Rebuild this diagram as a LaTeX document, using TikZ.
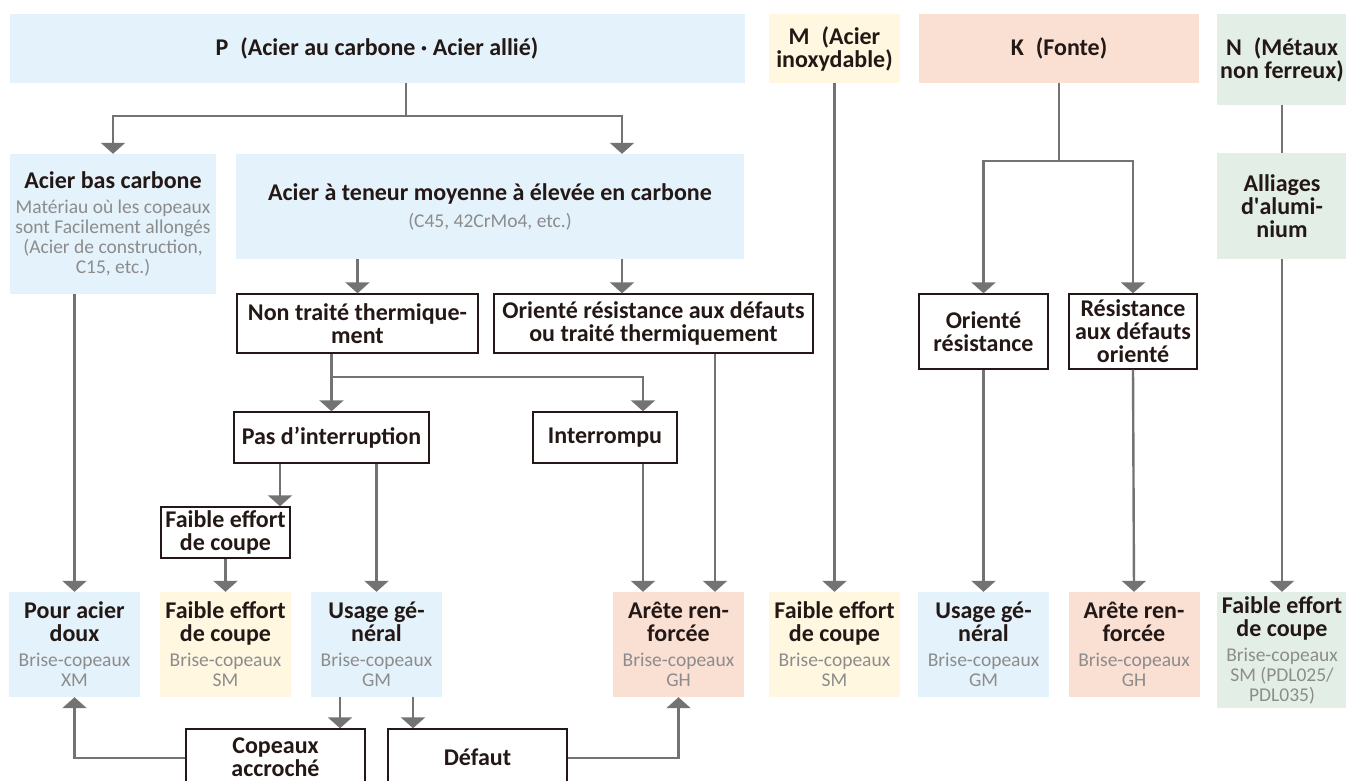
\documentclass[tikz,border=0pt]{standalone}
\usepackage{fontspec}
\setmainfont{Carlito}
\usetikzlibrary{arrows.meta}
\definecolor{ink}{HTML}{231815}
\definecolor{linegray}{HTML}{737373}
\definecolor{note}{HTML}{8C8C8C}
\definecolor{pblue}{HTML}{E4F2FB}
\definecolor{cream}{HTML}{FFF7E0}
\definecolor{blush}{HTML}{FADFD3}
\definecolor{mint}{HTML}{E3EFE6}
\newcommand{\brief}[1]{{\mdseries\fontsize{19.5}{21}\selectfont\color{note}#1}}

\begin{document}
\begin{tikzpicture}[x=1pt,y=-1pt,text=ink,
  font=\fontsize{24}{23}\selectfont\bfseries,
  every node/.style={inner sep=0pt,align=center},
  tag/.style={fill=#1,minimum width=131pt,minimum height=105pt},
  pick/.style={draw=ink,line width=1.4pt,fill=white},
  link/.style={draw=linegray,line width=2.4pt},
  flow/.style={-{Triangle[width=24pt,length=11pt]}}]
  \useasboundingbox (0,0) rectangle (1346,780);
  \clip (0,0) rectangle (1346,780);

  \node[fill=pblue,minimum width=735pt,minimum height=69pt] (P) at (377,48.5)
    {P\enspace(Acier au carbone · Acier allié)};
  \node[fill=cream,minimum width=131pt,minimum height=69pt] (M) at (834.5,48.5)
    {M\enspace(Acier\\inoxydable)};
  \node[fill=blush,minimum width=280pt,minimum height=69pt] (K) at (1059,48.5)
    {K\enspace(Fonte)};
  \node[fill=mint,minimum width=130pt,minimum height=91pt] (N) at (1282,59.5)
    {N\enspace(Métaux\\non ferreux)};

  \node[fill=pblue,minimum width=206pt,minimum height=140pt] (lowC) at (113,224)
    {Acier bas carbone\\[2pt]\brief{Matériau où les copeaux}\\[-3pt]
     \brief{sont Facilement allongés}\\[-3pt]\brief{(Acier de construction,}\\[-3pt]
     \brief{C15, etc.)}};
  \node[fill=pblue,minimum width=508pt,minimum height=105pt] (midC) at (490,206.5)
    {Acier à teneur moyenne à élevée en carbone\\[4pt]\brief{(C45, 42CrMo4, etc.)}};
  \node[pick,minimum width=241pt,minimum height=59pt] (untreated) at (357.5,323.5)
    {Non traité thermique-\\ment};
  \node[pick,minimum width=319pt,minimum height=59pt] (sturdy) at (653.5,323.5)
    {Orienté résistance aux défauts\\ou traité thermiquement};
  \node[pick,minimum width=195pt,minimum height=51pt] (steady) at (331.5,437.5)
    {Pas d’interruption};
  \node[pick,minimum width=144pt,minimum height=51pt] (broken) at (605,437.5)
    {Interrompu};
  \node[pick,minimum width=129pt,minimum height=51pt] (lowforce) at (225.5,532.5)
    {Faible effort\\de coupe};
  \node[pick,minimum width=129pt,minimum height=75pt] (korient) at (983.5,331.5)
    {Orienté\\résistance};
  \node[pick,minimum width=128pt,minimum height=75pt] (kdefect) at (1133,331.5)
    {Résistance\\aux défauts\\orienté};
  \node[fill=mint,minimum width=130pt,minimum height=106pt] (alu) at (1282,206)
    {Alliages\\d\textquotesingle alumi-\\nium};

  \node[tag=pblue] (mild) at (74.5,644.5)
    {Pour acier\\doux\\[2pt]\brief{Brise-copeaux}\\[-3pt]\brief{XM}};
  \node[tag=cream] (pSM) at (225.5,644.5)
    {Faible effort\\de coupe\\[2pt]\brief{Brise-copeaux}\\[-3pt]\brief{SM}};
  \node[tag=pblue] (pGM) at (376.5,644.5)
    {Usage gé-\\néral\\[2pt]\brief{Brise-copeaux}\\[-3pt]\brief{GM}};
  \node[tag=blush] (pGH) at (678.5,644.5)
    {Arête ren-\\forcée\\[2pt]\brief{Brise-copeaux}\\[-3pt]\brief{GH}};
  \node[tag=cream] (mSM) at (834.5,644.5)
    {Faible effort\\de coupe\\[2pt]\brief{Brise-copeaux}\\[-3pt]\brief{SM}};
  \node[tag=pblue] (kGM) at (983.5,644.5)
    {Usage gé-\\néral\\[2pt]\brief{Brise-copeaux}\\[-3pt]\brief{GM}};
  \node[tag=blush] (kGH) at (1134,644.5)
    {Arête ren-\\forcée\\[2pt]\brief{Brise-copeaux}\\[-3pt]\brief{GH}};
  \node[tag=mint,minimum height=116pt] (nSM) at (1282,650)
    {Faible effort\\de coupe\\[2pt]\brief{Brise-copeaux}\\[-3pt]\brief{SM (PDL025/}\\[-3pt]
     \brief{PDL035)}};

  \node[pick,minimum width=179pt,minimum height=56pt] (chips) at (275.5,757)
    {Copeaux\\accroché};
  \node[pick,minimum width=179pt,minimum height=56pt] (defect) at (477.5,757)
    {Défaut};

  \coordinate (pfork) at (406,116);
  \coordinate (ufork) at (331.5,377);
  \coordinate (kfork) at (1059,161);
  \coordinate (xT) at (622,0);
  \coordinate (xI) at (643,0);
  \coordinate (xO) at (715,0);
  \coordinate (xF) at (280,0);
  \coordinate (xA) at (340,0);
  \coordinate (xB) at (413,0);

  \draw[link] (P.south -| pfork) -- (pfork);
  \draw[link,flow] (pfork) -| (lowC.north);
  \draw[link,flow] (pfork) -| (midC.north -| xT);
  \draw[link,flow] (midC.south -| untreated) -- (untreated.north);
  \draw[link,flow] (midC.south -| xT) -- (sturdy.north -| xT);
  \draw[link] (untreated.south -| ufork) -- (ufork);
  \draw[link,flow] (ufork) -- (steady.north);
  \draw[link,flow] (ufork) -| (broken.north -| xI);
  \draw[link,flow] (steady.south -| xF) -- (lowforce.north -| xF);
  \draw[link,flow] (steady.south -| pGM) -- (pGM.north);
  \draw[link,flow] (lowforce.south) -- (pSM.north);
  \draw[link,flow] (lowC.south -| mild) -- (mild.north);
  \draw[link,flow] (broken.south -| xI) -- (pGH.north -| xI);
  \draw[link,flow] (sturdy.south -| xO) -- (pGH.north -| xO);
  \draw[link,flow] (pGM.south -| xA) -- (chips.north -| xA);
  \draw[link,flow] (pGM.south -| xB) -- (defect.north -| xB);
  \draw[link,flow] ([yshift=-1pt]chips.west) -| (mild.south);
  \draw[link,flow] ([yshift=-1pt]defect.east) -| (pGH.south);

  \draw[link,flow] (M.south) -- (mSM.north);
  \draw[link] (K.south) -- (kfork);
  \draw[link,flow] (kfork) -| (korient.north);
  \draw[link,flow] (kfork) -| (kdefect.north);
  \draw[link,flow] (korient.south) -- (kGM.north);
  \draw[link,flow] (kdefect.south) -- (kGH.north);
  \draw[link] (N.south) -- (alu.north);
  \draw[link,flow] (alu.south) -- (nSM.north);
\end{tikzpicture}
\end{document}
